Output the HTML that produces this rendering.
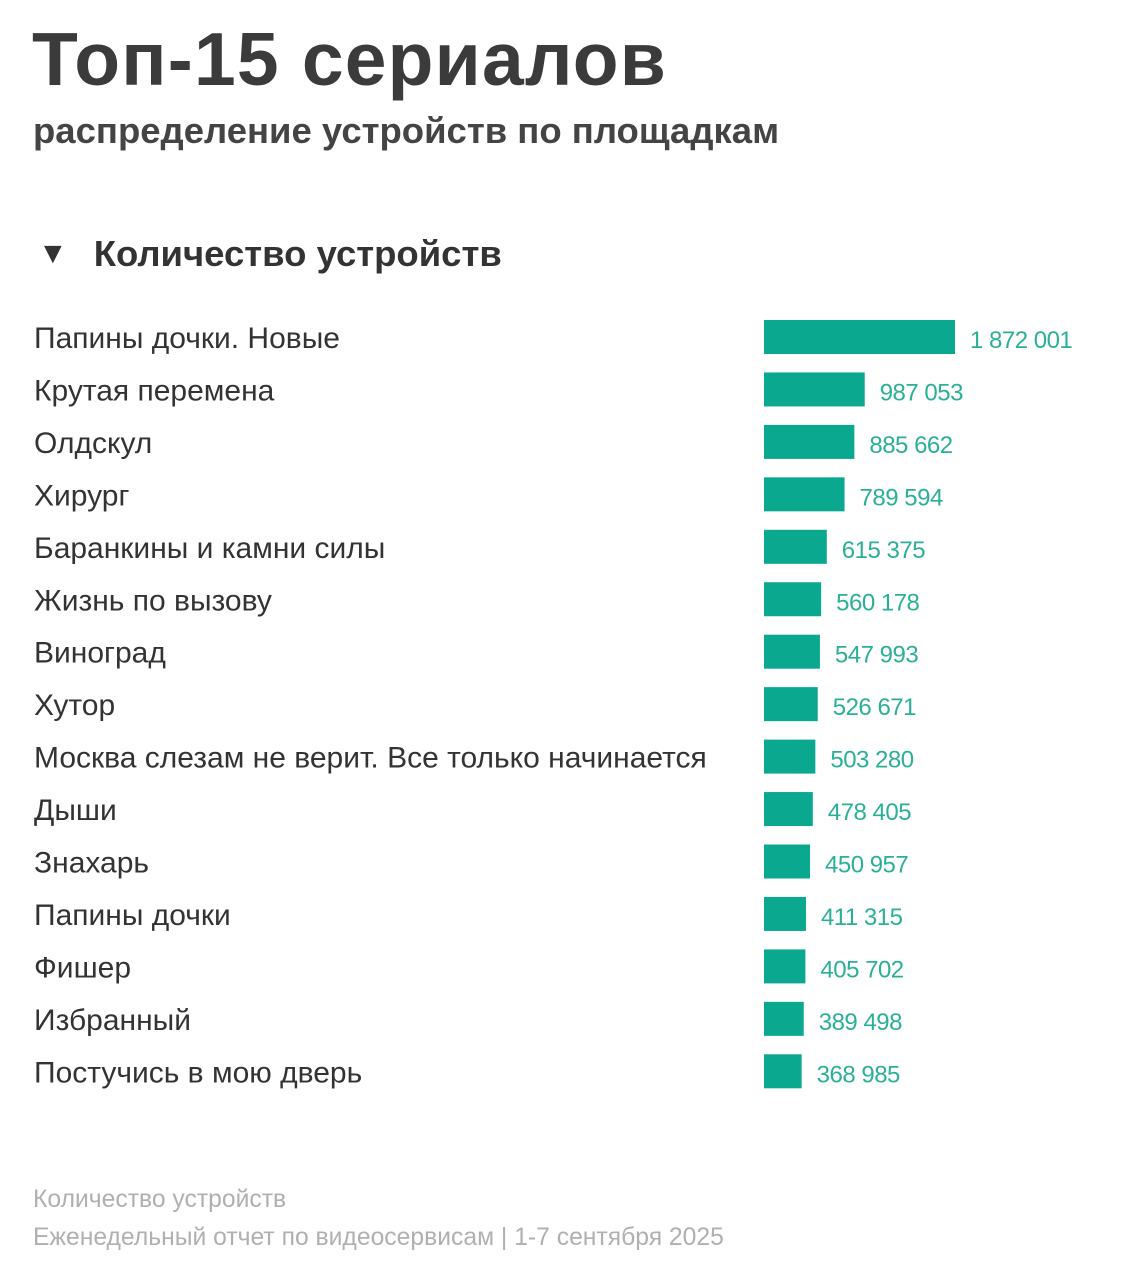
<!DOCTYPE html>
<html><head><meta charset="utf-8">
<style>
body{margin:0;width:1132px;height:1280px;background:#fff;font-family:"Liberation Sans","DejaVu Sans",sans-serif;position:relative;overflow:hidden}
.t{position:absolute;white-space:nowrap}
</style></head><body>
<div class="t" style="left:32px;top:16px;font-size:75px;font-weight:bold;color:#3b3b3b;letter-spacing:1.2px">Топ-15 сериалов</div>
<div class="t" style="left:33px;top:110px;font-size:36.5px;font-weight:bold;color:#444">распределение устройств по площадкам</div>
<div class="t" style="left:38px;top:233px;font-size:36.5px;font-weight:bold;color:#333"><span style="font-size:30px;vertical-align:3px">▼</span><span style="margin-left:26px">Количество устройств</span></div>
<svg id="chart" width="1132" height="1280" style="position:absolute;left:0;top:0"></svg>
<div class="t" style="left:33px;top:1186px;font-size:24.7px;color:#b0b0b0">Количество устройств</div>
<div class="t" style="left:33px;top:1224px;font-size:24.7px;color:#b0b0b0">Еженедельный отчет по видеосервисам | 1-7 сентября 2025</div>
<script>
const categories=["Папины дочки. Новые","Крутая перемена","Олдскул","Хирург","Баранкины и камни силы","Жизнь по вызову","Виноград","Хутор","Москва слезам не верит. Все только начинается","Дыши","Знахарь","Папины дочки","Фишер","Избранный","Постучись в мою дверь"];
const values=[1872001,987053,885662,789594,615375,560178,547993,526671,503280,478405,450957,411315,405702,389498,368985];
const valueLabels=["1 872 001","987 053","885 662","789 594","615 375","560 178","547 993","526 671","503 280","478 405","450 957","411 315","405 702","389 498","368 985"];
const svg=document.getElementById('chart');
const NS='http://www.w3.org/2000/svg';
const x0=764,maxW=191,maxV=1872001;
const xs=v=>v/maxV*maxW;
const yc=i=>337+i*52.45;
categories.forEach((c,i)=>{
  const t=document.createElementNS(NS,'text');
  
  
  t.setAttribute('x',34);t.setAttribute('y',yc(i)+11);
  t.setAttribute('font-size','30');t.setAttribute('fill','#333');
  t.setAttribute('font-family','"Liberation Sans",sans-serif');
  t.textContent=c;svg.appendChild(t);
  const w=xs(values[i]);
  const r=document.createElementNS(NS,'rect');
  
  
  r.setAttribute('x',x0);r.setAttribute('y',yc(i)-17);
  r.setAttribute('width',w);r.setAttribute('height',34);
  r.setAttribute('fill','#0aa88f');svg.appendChild(r);
  const v=document.createElementNS(NS,'text');
  
  
  v.setAttribute('x',x0+w+15);v.setAttribute('y',yc(i)+11);
  v.setAttribute('font-size','24');v.setAttribute('fill','#2bb097');
  v.setAttribute('letter-spacing','-0.5');
  v.setAttribute('font-family','"Liberation Sans",sans-serif');
  v.textContent=valueLabels[i];svg.appendChild(v);
});
</script>
</body></html>
